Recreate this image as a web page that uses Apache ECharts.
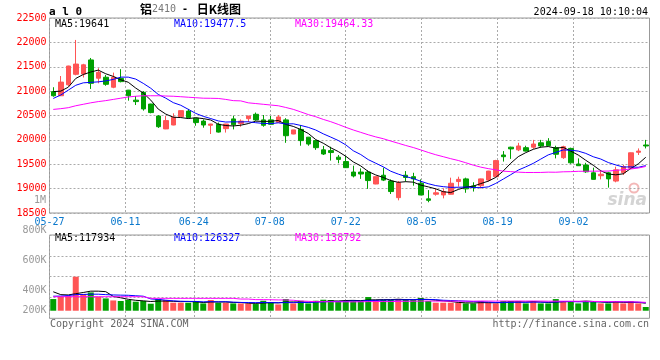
<!DOCTYPE html>
<html><head><meta charset="utf-8">
<script src="https://cdn.jsdelivr.net/npm/echarts@6/dist/echarts.min.js"></script>
<style>html,body{margin:0;padding:0;background:#fff}#c{width:660px;height:360px}</style>
</head><body><div id="c"></div><script>
const dates = ['05-27','05-28','05-29','05-30','05-31','06-03','06-04','06-05','06-06','06-07',
'06-11','06-12','06-13','06-14','06-17','06-18','06-19','06-20','06-21','06-24',
'06-25','06-26','06-27','06-28','07-01','07-02','07-03','07-04','07-05','07-08',
'07-09','07-10','07-11','07-12','07-15','07-16','07-17','07-18','07-19','07-22',
'07-23','07-24','07-25','07-26','07-29','07-30','07-31','08-01','08-02','08-05',
'08-06','08-07','08-08','08-09','08-12','08-13','08-14','08-15','08-16','08-19',
'08-20','08-21','08-22','08-23','08-26','08-27','08-28','08-29','08-30','09-02',
'09-03','09-04','09-05','09-06','09-09','09-10','09-11','09-12','09-13','09-18'];
const tickLabels = ['05-27','06-11','06-24','07-08','07-22','08-05','08-19','09-02'];

const opens = [20990,20905,21130,21345,21350,21640,21265,21285,21080,21260,
21020,20815,20975,20735,20490,20225,20305,20476,20590,20445,
20385,20300,20320,20230,20430,20335,20435,20525,20410,20410,
20360,20410,20120,20215,20055,19985,19795,19780,19645,19555,
19340,19340,19340,19095,19275,19155,18815,19275,19245,19110,
18790,18885,18870,18885,19145,19200,19055,19060,19175,19245,
19690,19850,19795,19840,19850,19940,19965,19840,19635,19825,
19505,19485,19325,19265,19325,19155,19325,19420,19745,19895];
const closes = [20905,21185,21515,21555,21540,21160,21385,21140,21285,21195,
20905,20785,20635,20560,20270,20395,20465,20600,20455,20355,
20305,20325,20160,20325,20310,20385,20490,20410,20300,20320,
20470,20085,20205,19985,19915,19840,19710,19740,19600,19430,
19260,19300,19165,19245,19175,18940,19120,19230,19200,18870,
18760,18915,18940,19110,19190,18995,19020,19200,19360,19575,
19655,19815,19875,19770,19915,19875,19880,19705,19860,19530,
19470,19345,19190,19295,19200,19385,19450,19735,19770,19875];
const lows = [20885,20900,21100,21325,21280,21045,21160,21110,21060,21180,
20805,20715,20600,20545,20245,20220,20300,20475,20445,20290,
20250,20120,20150,20150,20215,20270,20365,20395,20270,20315,
20355,19940,20115,19880,19880,19795,19690,19575,19520,19425,
19230,19200,18995,19090,19155,18890,18760,19145,19060,18865,
18720,18855,18800,18880,19040,18915,18940,19005,19145,19240,
19555,19610,19770,19760,19815,19840,19880,19620,19610,19510,
19465,19325,19185,19190,19020,19130,19280,19400,19690,19825];
const highs = [21080,21310,21520,22050,21560,21680,21470,21330,21380,21450,
21025,20900,21000,20740,20510,20490,20545,20600,20635,20445,
20420,20330,20355,20330,20495,20420,20490,20560,20510,20490,
20510,20445,20205,20305,20060,20000,19875,19860,19690,19670,
19470,19415,19375,19250,19430,19190,19155,19360,19325,19190,
18970,19005,19005,19225,19245,19225,19130,19205,19365,19590,
19770,19860,19940,19880,20000,20000,20035,19880,19880,19840,
19620,19530,19430,19385,19345,19450,19485,19740,19825,20000];

const ma5 = [20990,21000,21080,21260,21341,21392,21431,21356,21302,21233,
21182,21062,20961,20816,20631,20529,20465,20458,20437,20454,
20436,20408,20320,20294,20285,20301,20334,20384,20379,20381,
20398,20317,20276,20213,20132,20006,19931,19838,19761,19664,
19548,19466,19351,19280,19229,19165,19129,19142,19133,19072,
19036,18995,18937,18919,18983,19030,19051,19103,19153,19230,
19362,19521,19656,19738,19806,19850,19863,19829,19847,19770,
19689,19582,19479,19366,19300,19283,19304,19413,19508,19643];
const ma10 = [20850,20920,21020,21120,21170,21180,21190,21210,21240,21287,
21287,21247,21159,21059,20932,20856,20764,20710,20627,20543,
20483,20437,20389,20366,20370,20369,20371,20352,20337,20333,
20350,20326,20330,20296,20257,20202,20124,20057,19987,19898,
19777,19699,19595,19521,19447,19357,19298,19247,19207,19151,
19101,19062,19040,19026,19028,19033,19023,19020,19036,19107,
19196,19286,19380,19446,19518,19606,19692,19743,19793,19788,
19770,19723,19654,19607,19535,19486,19443,19446,19437,19472];
const ma30 = [20625,20640,20660,20700,20730,20760,20785,20805,20830,20855,
20880,20895,20905,20905,20905,20900,20895,20885,20875,20865,
20855,20853,20850,20830,20805,20800,20760,20745,20730,20715,
20700,20665,20626,20574,20519,20475,20420,20373,20317,20258,
20203,20154,20105,20061,20024,19976,19931,19885,19843,19794,
19742,19695,19655,19614,19577,19531,19482,19441,19410,19385,
19358,19349,19338,19331,19331,19332,19338,19336,19345,19348,
19355,19357,19358,19359,19360,19375,19386,19403,19422,19455];

const vols = [185000,222000,233000,539000,265000,290000,222000,195000,163000,154000,
170000,143000,154000,111000,185000,170000,127000,127000,127000,154000,
116000,170000,127000,127000,116000,116000,116000,106000,158000,138000,
100000,185000,116000,158000,116000,158000,174000,170000,154000,154000,
170000,154000,217000,170000,170000,170000,185000,185000,170000,201000,
154000,127000,127000,127000,127000,116000,116000,154000,127000,116000,
154000,154000,154000,116000,154000,116000,116000,185000,154000,154000,
116000,154000,154000,116000,116000,154000,116000,154000,116000,59000];
const vma5 = [300000,255000,250000,270000,289000,310000,310000,302000,227000,205000,
181000,165000,157000,146000,153000,153000,149000,144000,147000,141000,
130000,139000,139000,139000,131000,131000,120000,116000,122000,127000,
124000,137000,139000,139000,135000,147000,144000,155000,154000,162000,
164000,160000,170000,173000,176000,176000,182000,176000,176000,182000,
179000,167000,156000,147000,132000,125000,123000,128000,128000,126000,
133000,141000,141000,139000,146000,139000,131000,137000,145000,145000,
145000,153000,146000,139000,131000,139000,131000,131000,131000,120000];
const vma10 = [230000,232000,240000,255000,258000,262000,262000,255000,250000,247000,
245000,237000,230000,187000,179000,167000,157000,150000,147000,147000,
141000,144000,141000,143000,136000,131000,130000,128000,131000,129000,
127000,129000,128000,131000,131000,135000,141000,147000,147000,149000,
156000,152000,163000,164000,169000,170000,171000,173000,175000,179000,
178000,175000,166000,162000,157000,152000,145000,142000,138000,129000,
129000,132000,135000,133000,136000,136000,136000,139000,142000,146000,
142000,142000,142000,142000,138000,142000,142000,139000,135000,126000];
const vma30 = [222000,222000,222000,222000,222000,222000,222000,222000,222000,222000,
222000,222000,222000,196000,196000,196000,196000,196000,196000,196000,
196000,196000,196000,196000,196000,185000,185000,176000,176000,174000,
171000,170000,166000,154000,149000,144000,143000,142000,141000,141000,
141000,142000,144000,146000,145000,145000,147000,149000,151000,152000,
154000,152000,152000,152000,152000,152000,152000,154000,153000,152000,
154000,153000,154000,153000,154000,153000,151000,151000,151000,151000,
150000,150000,147000,146000,144000,143000,141000,140000,138000,133000];

const maLegend = ['MA5:19641','MA10:19477.5','MA30:19464.33'];
const volLegend = ['MA5:117934','MA10:126327','MA30:138792'];
const volTickLabels = {0:'200K',2:'400K',5:'600K',8:'800K'};

const MONO = '"DejaVu Sans Mono", "Liberation Mono", monospace';
const RED = '#ff5555', GREEN = '#00a000';
const dotted = {color:'#aaa', width:1, type:[2,2]};
const isTick = (i, v) => tickLabels.indexOf(v) >= 0;

const chart = echarts.init(document.getElementById('c'), null, {renderer:'canvas'});
const ohlc = dates.map((d,i)=>[opens[i], closes[i], lows[i], highs[i]]);
const hidden = {axisLine:{show:false}, axisTick:{show:false}, axisLabel:{show:false}, splitLine:{show:false}};
function txt(x, y, text, fill, font, align) {
  return {type:'text', x:x, y:y, silent:true, style:{text:text, fill:fill, font:font,
    textAlign:align||'left', align:align||'left', textVerticalAlign:'middle', verticalAlign:'middle'}};
}
const lineS = (data, color, xi, yi) => ({type:'line', data:data, xAxisIndex:xi, yAxisIndex:yi,
  symbol:'none', showSymbol:false, lineStyle:{width:1, color:color}, itemStyle:{color:color}, z:3});

chart.setOption({
  animation:false,
  grid:[
    {left:49.5, top:18, width:600, height:195, show:true, borderColor:'#999', borderWidth:1},
    {left:49.5, top:235, width:600, height:83.3, show:true, borderColor:'#999', borderWidth:1},
    {left:49.5, top:230, width:600, height:80.7, show:false}
  ],
  xAxis:[
    Object.assign({gridIndex:0, type:'category', data:dates, boundaryGap:true}, hidden),
    {gridIndex:0, type:'category', data:dates, boundaryGap:false, position:'bottom',
     axisLine:{show:false}, axisTick:{show:false},
     axisLabel:{interval:isTick, color:'#0a78cc', fontFamily:MONO, fontSize:10, margin:4},
     splitLine:{show:true, interval:isTick, lineStyle:dotted}},
    Object.assign({gridIndex:1, type:'category', data:dates, boundaryGap:true}, hidden),
    {gridIndex:1, type:'category', data:dates, boundaryGap:false,
     axisLine:{show:false}, axisTick:{show:false}, axisLabel:{show:false},
     splitLine:{show:true, interval:isTick, lineStyle:dotted}},
    Object.assign({gridIndex:2, type:'category', data:['x']}, hidden)
  ],
  yAxis:[
    {gridIndex:0, type:'value', min:18500, max:22500, interval:500,
     axisLine:{show:false}, axisTick:{show:false},
     axisLabel:{formatter:(v)=>String(v), color:'#ff0000', fontFamily:MONO, fontSize:10, margin:3,
                padding:[0,0,2,0], showMinLabel:true, showMaxLabel:true},
     splitLine:{show:true, lineStyle:dotted}},
    Object.assign({gridIndex:1, type:'value', min:-120000, max:1200000}, hidden),
    {gridIndex:1, type:'value', min:0, max:4, interval:1,
     axisLine:{show:false}, axisTick:{show:false}, axisLabel:{show:false},
     splitLine:{show:true, lineStyle:dotted}},
    {gridIndex:2, type:'value', min:0, max:8, interval:1,
     axisLine:{show:false}, axisTick:{show:false}, splitLine:{show:false},
     axisLabel:{formatter:(v)=>volTickLabels[v]||'', color:'#999', fontFamily:MONO, fontSize:10, margin:3,
                showMinLabel:true, showMaxLabel:true}}
  ],
  series:[
    {type:'candlestick', xAxisIndex:0, yAxisIndex:0, data:ohlc, barWidth:5,
     itemStyle:{color:RED, color0:GREEN, borderColor:RED, borderColor0:GREEN, borderWidth:1}},
    lineS(ma5, '#000000', 0, 0),
    lineS(ma10, '#0000ff', 0, 0),
    lineS(ma30, '#ff00ff', 0, 0),
    {type:'bar', xAxisIndex:2, yAxisIndex:1, barWidth:6,
     data:vols.map((v,i)=>({value:v, itemStyle:{color: closes[i] > opens[i] ? RED : GREEN}}))},
    lineS(vma5, '#000000', 2, 1),
    lineS(vma10, '#0000ff', 2, 1),
    lineS(vma30, '#ff00ff', 2, 1),
    {type:'line', xAxisIndex:3, yAxisIndex:2, data:[]},
    {type:'line', xAxisIndex:4, yAxisIndex:3, data:[]}
  ],
  graphic:[
    txt(49, 12, 'a l 0', '#000', 'bold 11px ' + MONO),
    {type:'text', x:140, y:9, silent:true, style:{
      text:'{a|铝}{b|2410}{c| - }{a| 日K线图}', textVerticalAlign:'middle', verticalAlign:'middle',
      rich:{a:{fontFamily:'"Noto Sans CJK SC"', fontSize:12, fill:'#000', color:'#000', fontWeight:'bold'},
            b:{fontFamily:MONO, fontSize:10, fill:'#777', color:'#777'},
            c:{fontFamily:MONO, fontSize:10, fill:'#000', color:'#000', fontWeight:'bold'}}}},
    txt(648, 12, '2024-09-18 10:10:04', '#000', '10px ' + MONO, 'right'),
    txt(55, 24, maLegend[0], '#000', '10px ' + MONO),
    txt(174, 24, maLegend[1], '#0000ff', '10px ' + MONO),
    txt(295, 24, maLegend[2], '#ff00ff', '10px ' + MONO),
    txt(55, 238.5, volLegend[0], '#000', '10px ' + MONO),
    txt(174, 238.5, volLegend[1], '#0000ff', '10px ' + MONO),
    txt(295, 238.5, volLegend[2], '#ff00ff', '10px ' + MONO),
    txt(46, 200.5, '1M', '#999', '10px ' + MONO, 'right'),
    txt(50, 324, 'Copyright 2024 SINA.COM', '#666', '10px ' + MONO),
    txt(649, 324, 'http://finance.sina.com.cn', '#666', '10px ' + MONO, 'right'),
    {type:'circle', silent:true, shape:{cx:634, cy:188, r:4.5}, style:{fill:'none', stroke:'#f3b8b8', lineWidth:2}},
    txt(647, 201, 'sina', '#d4d4d4', 'italic bold 17px "DejaVu Sans"', 'right')
  ]
});
</script></body></html>
